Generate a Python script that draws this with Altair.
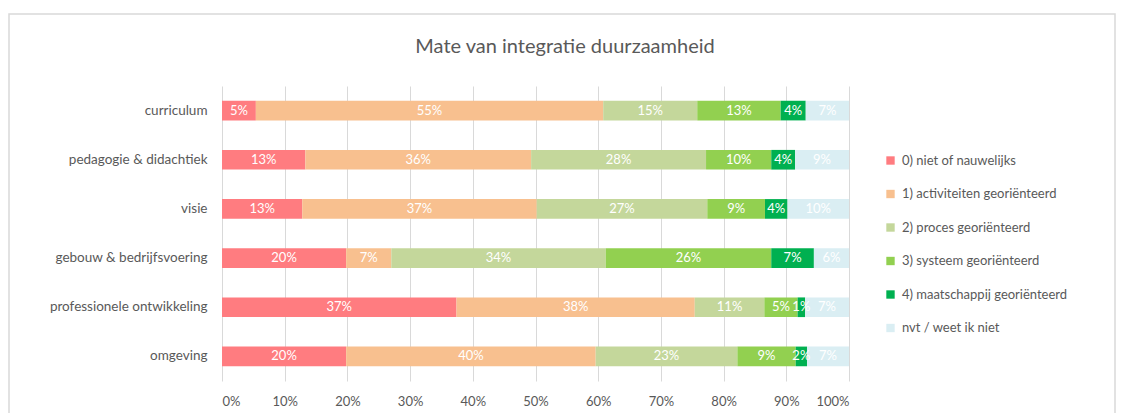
import altair as alt
import pandas as pd

categories = ["curriculum", "pedagogie & didachtiek", "visie",
              "gebouw & bedrijfsvoering", "professionele ontwikkeling", "omgeving"]
levels = ["0) niet of nauwelijks", "1) activiteiten georiënteerd", "2) proces georiënteerd",
          "3) systeem georiënteerd", "4) maatschappij georiënteerd", "nvt / weet ik niet"]
colors = ["#FF7C80", "#F8C08F", "#C4D79B", "#92D050", "#00B050", "#DAEEF3"]
title_text = "Mate van integratie duurzaamheid"

niet = [5.4, 13.3, 12.8, 19.8, 37.4, 19.8]
activiteiten = [55.4, 36.0, 37.4, 7.2, 38.0, 39.8]
proces = [15.0, 27.9, 27.2, 34.2, 11.1, 22.6]
systeem = [13.3, 10.4, 9.2, 26.4, 5.3, 9.3]
maatschappij = [4.0, 3.8, 3.6, 6.8, 1.2, 1.8]
nvt = [6.9, 8.6, 9.8, 5.6, 7.0, 6.7]

series = [niet, activiteiten, proces, systeem, maatschappij, nvt]

rows = []
for ci, cat in enumerate(categories):
    start = 0.0
    for li, lev in enumerate(levels):
        v = series[li][ci]
        rows.append({"cat": cat, "level": lev, "order": li, "value": v,
                     "start": start / 100, "end": (start + v) / 100,
                     "mid": (start + v / 2) / 100,
                     "label": f"{int(v + 0.5)}%"})
        start += v
df = pd.DataFrame(rows)

FONT = "Lato"
GREY = "#595959"

ysc = alt.Scale(domain=categories, paddingInner=0.6, paddingOuter=0.3)
xsc = alt.Scale(domain=[0, 1], nice=False)

bars = alt.Chart(df).mark_bar().encode(
    y=alt.Y("cat:N", scale=ysc, sort=categories,
            axis=alt.Axis(title=None, ticks=False, domain=False, labelFontSize=13.5,
                          labelColor=GREY, labelFont=FONT, labelPadding=15, grid=False,
                          labelLimit=300)),
    x=alt.X("start:Q", scale=xsc,
            axis=alt.Axis(title=None, format=".0%", values=[i / 10 for i in range(11)],
                          ticks=False, domain=False, gridColor="#D9D9D9", gridWidth=1,
                          labelFontSize=13, labelColor=GREY, labelFont=FONT, labelPadding=14)),
    x2="end:Q",
    color=alt.Color("level:N", scale=alt.Scale(domain=levels, range=colors),
                    legend=alt.Legend(title=None, orient="none", legendX=662, legendY=68,
                                      symbolType="square", symbolSize=70, symbolStrokeWidth=0,
                                      labelFontSize=13, labelColor=GREY, labelFont=FONT,
                                      rowPadding=19.5, labelOffset=5, labelLimit=300)),
)

text = alt.Chart(df).mark_text(color="white", fontSize=13, font=FONT).encode(
    y=alt.Y("cat:N", scale=ysc, sort=categories),
    x=alt.X("mid:Q", scale=xsc),
    text="label:N",
)

frame = alt.Chart(pd.DataFrame({"a": [0]})).mark_rect(
    fill=None, stroke="#D9D9D9", strokeWidth=1.5).encode(
    x=alt.value(-213), x2=alt.value(893), y=alt.value(-72), y2=alt.value(420))

title = alt.Chart(pd.DataFrame({"t": [title_text]})).mark_text(
    fontSize=20, font=FONT, color=GREY, align="center", baseline="middle").encode(
    x=alt.value(343), y=alt.value(-39), text="t:N")

chart = alt.layer(frame, bars, text, title).properties(
    width=627, height=295,
    autosize=alt.AutoSizeParams(type="none"),
    padding={"left": 214, "top": 78, "right": 267, "bottom": 32},
).configure_view(stroke=None)

chart.save("out.html", embed_options={"renderer": "svg", "actions": False})
